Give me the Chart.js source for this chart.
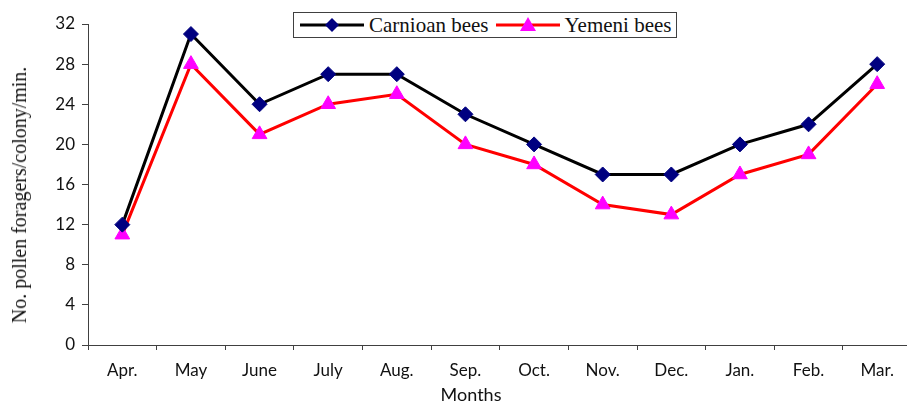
<!DOCTYPE html>
<html>
<head>
<meta charset="utf-8">
<script src="https://cdn.jsdelivr.net/npm/chart.js@4"></script>
<style>
  html, body { margin: 0; padding: 0; background: #fff; overflow: hidden; }
  #wrap { position: relative; width: 921px; height: 403px; }
  #legend {
    position: absolute; left: 293px; top: 12px; width: 382px; height: 24px;
    border: 1px solid #404040; background: #fff;
    font-family: "Liberation Serif", "Times New Roman", serif; font-size: 21px; color: #111;
    display: flex; align-items: center; white-space: nowrap;
  }
  #legend .item { display: flex; align-items: center; }
  #legend svg { display: block; }
  .axis-title { position: absolute; white-space: nowrap; color: #111; }
  #ytitle {
    left: 19px; top: 195px; height: 20px; line-height: 20px;
    font-family: "Liberation Serif", "Times New Roman", serif; font-size: 20px;
    transform: translate(-50%, -50%) rotate(-90deg);
  }
  #xtitle {
    left: 471px; top: 384px; height: 20px; line-height: 20px;
    font-family: Lato, sans-serif; font-size: 18px;
    transform: translateX(-50%);
  }
</style>
</head>
<body>
<div id="wrap">
  <canvas id="chart" width="921" height="403"></canvas>
  <div id="legend"></div>
  <div id="ytitle" class="axis-title">No. pollen foragers/colony/min.</div>
  <div id="xtitle" class="axis-title">Months</div>
</div>
<script>
  // Months on the x axis
  const months = ['Apr.', 'May', 'June', 'July', 'Aug.', 'Sep.', 'Oct.', 'Nov.', 'Dec.', 'Jan.', 'Feb.', 'Mar.'];

  // Pollen foragers per colony per minute
  const carnioanBees = [12, 31, 24, 27, 27, 23, 20, 17, 17, 20, 22, 28];
  const yemeniBees = [11, 28, 21, 24, 25, 20, 18, 14, 13, 17, 19, 26];

  const yMin = 0;
  const yMax = 32;
  const yStep = 4;

  const axisColor = '#404040';
  const tickFont = { family: 'Lato, sans-serif', size: 17 };

  const ctx = document.getElementById('chart');

  const chart = new Chart(ctx, {
    type: 'line',
    data: {
      labels: months,
      datasets: [{
        label: 'Carnioan bees',
        data: carnioanBees,
        borderColor: '#000000',
        borderWidth: 3,
        pointStyle: 'rectRot',
        pointRadius: 7.5,
        pointBackgroundColor: '#000080',
        pointBorderColor: '#000080',
        pointBorderWidth: 1,
        tension: 0
      }, {
        label: 'Yemeni bees',
        data: yemeniBees,
        borderColor: '#ff0000',
        borderWidth: 3,
        pointStyle: 'triangle',
        pointRadius: 8.5,
        pointBackgroundColor: '#ff00ff',
        pointBorderColor: '#ff00ff',
        pointBorderWidth: 1,
        tension: 0
      }]
    },
    options: {
      responsive: false,
      animation: false,
      layout: { padding: { top: 24, right: 6, left: 0, bottom: 0 } },
      plugins: {
        legend: { display: false },
        tooltip: { enabled: false }
      },
      scales: {
        x: {
          offset: true,
          grid: {
            offset: true,
            drawOnChartArea: false,
            drawTicks: true,
            tickLength: 5,
            color: axisColor
          },
          border: { display: true, color: axisColor, width: 1 },
          ticks: { color: '#111', font: tickFont, padding: 10, maxRotation: 0 },
          // title drawn as HTML below the axis (#xtitle)
          title: { display: false },
          afterFit: function(scale) { scale.height = 58; }
        },
        y: {
          min: yMin,
          max: yMax,
          grid: {
            drawOnChartArea: false,
            drawTicks: true,
            tickLength: 6,
            color: axisColor
          },
          border: { display: true, color: axisColor, width: 1 },
          ticks: { stepSize: yStep, color: '#111', font: tickFont, padding: 7 },
          // title drawn as HTML on the left (#ytitle)
          title: { display: false },
          afterFit: function(scale) { scale.width = 88; }
        }
      }
    }
  });

  // Legend: line with marker, like the spreadsheet legend
  function swatch(ds) {
    const marker = ds.pointStyle === 'rectRot'
      ? '<polygon points="32,5 39,12 32,19 25,12" fill="' + ds.pointBackgroundColor + '"/>'
      : '<polygon points="32,4 40,18 24,18" fill="' + ds.pointBackgroundColor + '"/>';
    return '<svg width="64" height="24" viewBox="0 0 64 24">' +
      '<line x1="0" y1="12" x2="64" y2="12" stroke="' + ds.borderColor + '" stroke-width="3"/>' +
      marker + '</svg>';
  }

  const legendEl = document.getElementById('legend');
  legendEl.innerHTML = chart.data.datasets.map(function(ds, i) {
    return '<span class="item" style="margin-left:' + (i === 0 ? 6 : 7) + 'px">' +
      swatch(ds) + '<span style="margin-left:5px">' + ds.label + '</span></span>';
  }).join('');
</script>
</body>
</html>
